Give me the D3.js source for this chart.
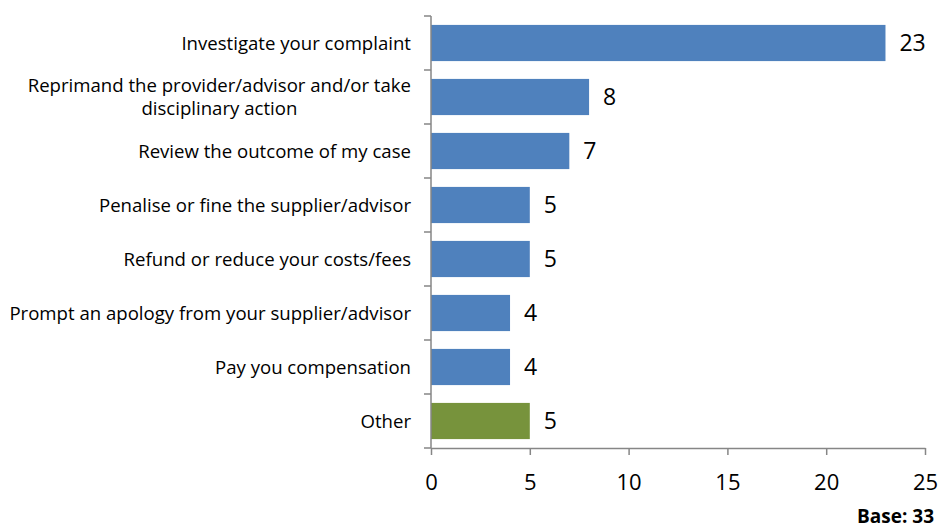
<!DOCTYPE html>
<html>
<head>
<meta charset="utf-8">
<script src="https://cdn.jsdelivr.net/npm/d3@7"></script>
<style>
  body { margin: 0; background: #fff; }
  svg { display: block; font-family: "Open Sans", Lato, sans-serif; }
</style>
</head>
<body>
<div class="vis-barchart"></div>
<script>
// chart data
const categories = [
    'Investigate your complaint',
    'Reprimand the provider/advisor and/or take|disciplinary action',
    'Review the outcome of my case',
    'Penalise or fine the supplier/advisor',
    'Refund or reduce your costs/fees',
    'Prompt an apology from your supplier/advisor',
    'Pay you compensation',
    'Other'
];
const values = [23, 8, 7, 5, 5, 4, 4, 5];
const barColours = ['#4F81BD', '#4F81BD', '#4F81BD', '#4F81BD', '#4F81BD', '#4F81BD', '#4F81BD', '#77933C'];
const xTicks = [0, 5, 10, 15, 20, 25];
const baseNote = 'Base: 33';

const width = 939, height = 530;
const margin = {top: 16, right: 14, bottom: 82, left: 431};
const w = 925 - margin.left;
const h = 448 - margin.top;

const svg = d3.select('.vis-barchart').append('svg')
    .attr('width', width)
    .attr('height', height);

const g = svg.append('g')
    .attr('transform', 'translate(' + margin.left + ',' + margin.top + ')');

const x = d3.scaleLinear().domain([0, 25]).range([0, w]);
const y = d3.scaleBand().domain(d3.range(categories.length)).range([0, h]).paddingInner(0.33).paddingOuter(0.165);
const band = d3.scaleBand().domain(d3.range(categories.length)).range([0, h]);

// bars
g.selectAll('.bar')
    .data(values)
    .enter().append('rect')
    .attr('class', 'bar')
    .attr('x', x(0))
    .attr('y', (d, i) => y(i))
    .attr('width', d => x(d) - x(0))
    .attr('height', y.bandwidth())
    .attr('fill', (d, i) => barColours[i]);

// value labels
g.selectAll('.val')
    .data(values)
    .enter().append('text')
    .attr('class', 'val')
    .attr('x', d => x(d) + 14)
    .attr('y', (d, i) => y(i) + y.bandwidth() / 2)
    .attr('dy', '0.36em')
    .attr('font-size', 23)
    .attr('fill', '#000')
    .text(d => d);

// y axis line and ticks at band edges
const axisCol = '#868686';
g.append('line')
    .attr('x1', 0).attr('x2', 0).attr('y1', 0).attr('y2', h)
    .attr('stroke', axisCol).attr('stroke-width', 1.5);
g.selectAll('.ytick')
    .data(d3.range(categories.length + 1))
    .enter().append('line')
    .attr('x1', -7).attr('x2', 0)
    .attr('y1', i => i < categories.length ? band(i) : h)
    .attr('y2', i => i < categories.length ? band(i) : h)
    .attr('stroke', axisCol).attr('stroke-width', 1.5);

// category labels
const labelX = -20;
const cats = g.selectAll('.cat')
    .data(categories)
    .enter().append('text')
    .attr('class', 'cat')
    .attr('font-size', 18.6)
    .attr('fill', '#000');
cats.each(function (d, i) {
    const lines = d.split('|');
    const cy = band(i) + band.bandwidth() / 2;
    if (lines.length === 1) {
        d3.select(this).attr('x', labelX).attr('y', cy).attr('dy', '0.35em')
            .attr('text-anchor', 'end').text(d);
    } else {
        // one text per line, block centred with right edge at labelX
        const lh = 23.5;
        const parent = d3.select(this.parentNode);
        const made = lines.map((l, k) => parent.append('text')
            .attr('class', 'cat')
            .attr('font-size', 18.6)
            .attr('fill', '#000')
            .attr('text-anchor', 'middle')
            .attr('y', cy + (k - (lines.length - 1) / 2) * lh)
            .attr('dy', '0.35em')
            .text(l));
        const bw = d3.max(made, t => t.node().getComputedTextLength());
        made.forEach(t => t.attr('x', labelX - bw / 2));
        d3.select(this).remove();
    }
});

// x axis
const xAxis = g.append('g')
    .attr('transform', 'translate(0,' + h + ')')
    .call(d3.axisBottom(x).tickValues(xTicks).tickSize(7).tickSizeOuter(0).tickPadding(19));
xAxis.select('.domain').attr('stroke', axisCol).attr('stroke-width', 1.5);
xAxis.selectAll('.tick line').attr('stroke', axisCol).attr('stroke-width', 1.5);
xAxis.selectAll('.tick text')
    .attr('font-family', '"Open Sans", Lato, sans-serif')
    .attr('font-size', 22)
    .attr('fill', '#000');

// base note
svg.append('text')
    .attr('x', 934)
    .attr('y', 523)
    .attr('text-anchor', 'end')
    .attr('font-size', 19)
    .attr('font-weight', 'bold')
    .attr('fill', '#000')
    .text(baseNote);
</script>
</body>
</html>
